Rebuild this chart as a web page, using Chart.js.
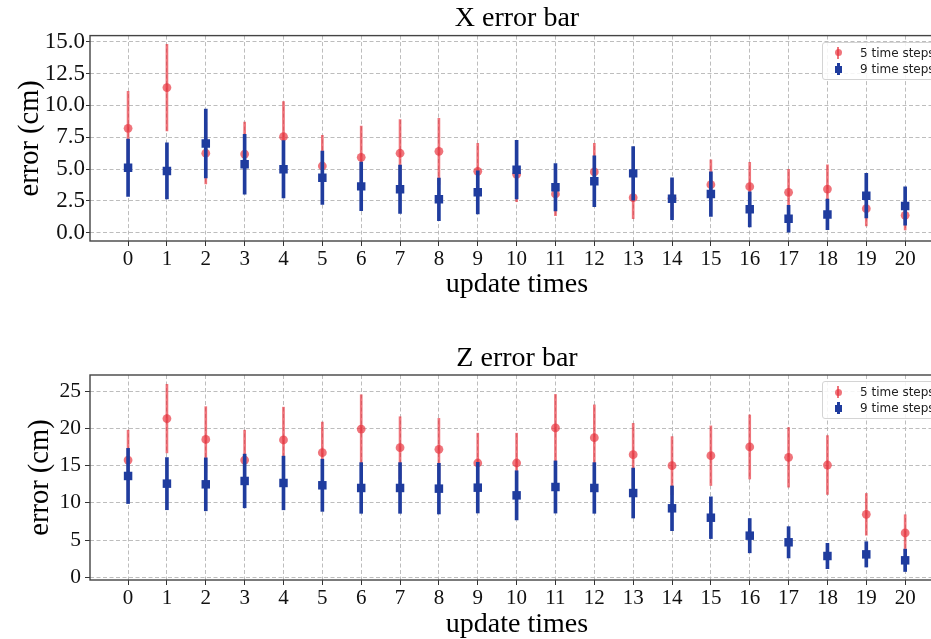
<!DOCTYPE html>
<html>
<head>
<meta charset="utf-8">
<script src="https://cdn.jsdelivr.net/npm/chart.js@4/dist/chart.umd.min.js"></script>
<style>
  html, body { margin:0; padding:0; background:#fff; width:931px; height:639px; overflow:hidden; }
  .wrap { position:absolute; left:0; }
  .legend { position:absolute; width:130px; height:38px; border:1px solid #d4d4d4; border-radius:3px;
            background:rgba(255,255,255,0.85); box-sizing:border-box; font:12px 'DejaVu Sans', sans-serif; color:#222; }
  .row { position:absolute; left:0; height:14px; line-height:14px; white-space:nowrap; }
  .row .txt { position:absolute; left:37px; top:0; }
  .mk { position:absolute; left:15px; top:7px; }
  .mk .ln { position:absolute; top:-6px; height:12px; }
  .mk .dot { position:absolute; }
</style>
</head>
<body>
<div class="wrap" style="top:0px;"><canvas id="cx" width="950" height="310"></canvas></div>
<div class="wrap" style="top:320px;"><canvas id="cz" width="950" height="330"></canvas></div>
<div class="legend" id="lx" style="left:822px; top:42px;"></div>
<div class="legend" id="lz" style="left:822px; top:381px;"></div>
<script>
// ---------------- data ----------------
const updateTimes = [0,1,2,3,4,5,6,7,8,9,10,11,12,13,14,15,16,17,18,19,20];
const seriesNames = ['5 time steps', '9 time steps'];

// X error (cm)
const xRedMean  = [8.2, 11.4, 6.24, 6.18, 7.54, 5.24, 5.92, 6.24, 6.39, 4.82, 4.59, 3.04, 4.77, 2.75, 2.7, 3.77, 3.62, 3.17, 3.43, 1.89, 1.37];
const xRedErr   = [2.9, 3.4, 2.4, 2.5, 2.75, 2.4, 2.45, 2.65, 2.6, 2.2, 2.15, 1.7, 2.25, 1.65, 1.5, 1.95, 1.9, 1.8, 1.9, 1.35, 1.15];
const xBlueMean = [5.1, 4.85, 7.0, 5.37, 4.98, 4.32, 3.64, 3.41, 2.62, 3.17, 4.95, 3.57, 4.04, 4.66, 2.67, 3.04, 1.84, 1.1, 1.44, 2.91, 2.1];
const xBlueErr  = [2.25, 2.2, 2.7, 2.35, 2.25, 2.1, 1.9, 1.9, 1.67, 1.7, 2.3, 1.85, 2.0, 2.1, 1.65, 1.75, 1.38, 1.05, 1.2, 1.75, 1.5];
const xYTicks   = [0, 2.5, 5, 7.5, 10, 12.5, 15];

// Z error (cm)
const zRedMean  = [15.74, 21.3, 18.5, 15.74, 18.43, 16.73, 19.9, 17.4, 17.18, 15.34, 15.34, 20.04, 18.74, 16.46, 14.98, 16.32, 17.49, 16.1, 15.07, 8.45, 5.95];
const zRedErr   = [4.0, 4.6, 4.4, 4.0, 4.4, 4.1, 4.6, 4.15, 4.15, 4.0, 4.0, 4.5, 4.4, 4.2, 3.9, 4.0, 4.3, 4.0, 3.95, 2.8, 2.45];
const zBlueMean = [13.6, 12.57, 12.48, 12.93, 12.66, 12.35, 11.99, 11.99, 11.9, 12.03, 11.0, 12.12, 11.99, 11.31, 9.26, 8.0, 5.59, 4.7, 2.86, 3.08, 2.28];
const zBlueErr  = [3.7, 3.5, 3.55, 3.6, 3.6, 3.5, 3.4, 3.4, 3.4, 3.4, 3.3, 3.5, 3.4, 3.35, 3.0, 2.8, 2.3, 2.1, 1.7, 1.7, 1.5];
const zYTicks   = [0, 5, 10, 15, 20, 25];

// ---------------- styles ----------------
const RED = 'rgba(232,50,60,0.68)';
const BLUE = '#1f3c9e';
const GRID = '#b5b5b5';
const SERIF = "'Liberation Serif', 'Times New Roman', serif";

Chart.defaults.font.family = SERIF;
Chart.defaults.color = '#111';

const framePlugin = {
  id: 'frame',
  afterDatasetsDraw(chart) {
    const {ctx, chartArea: a} = chart;
    ctx.save();
    ctx.strokeStyle = '#444';
    ctx.lineWidth = 1.4;
    ctx.strokeRect(a.left, a.top, a.right - a.left, a.bottom - a.top);
    ctx.restore();
  }
};

function makeChart(id, o) {
  const redBars = updateTimes.map((t, i) => ({x: t, y: [o.redMean[i] - o.redErr[i], o.redMean[i] + o.redErr[i]]}));
  const bluBars = updateTimes.map((t, i) => ({x: t, y: [o.blueMean[i] - o.blueErr[i], o.blueMean[i] + o.blueErr[i]]}));
  const redPts = updateTimes.map((t, i) => ({x: t, y: o.redMean[i]}));
  const bluPts = updateTimes.map((t, i) => ({x: t, y: o.blueMean[i]}));
  return new Chart(document.getElementById(id), {
    type: 'scatter',
    data: {
      datasets: [
        {type: 'bar', label: seriesNames[0] + ' err', data: redBars, backgroundColor: RED, borderWidth: 0,
         barThickness: 2, grouped: false, order: 4},
        {type: 'scatter', label: seriesNames[0], data: redPts, backgroundColor: RED, borderWidth: 0,
         pointStyle: 'circle', pointRadius: 4.4, order: 3},
        {type: 'bar', label: seriesNames[1] + ' err', data: bluBars, backgroundColor: BLUE, borderWidth: 0,
         barThickness: 3, grouped: false, order: 2},
        {type: 'scatter', label: seriesNames[1], data: bluPts, backgroundColor: BLUE, borderWidth: 0,
         pointStyle: 'rect', pointRadius: 6, order: 1}
      ]
    },
    options: {
      responsive: false,
      animation: false,
      events: [],
      layout: {padding: {left: 0, right: 6, top: 0, bottom: 0}},
      plugins: {
        legend: {display: false},
        tooltip: {enabled: false},
        title: {display: true, text: o.title, fullSize: false, color: '#000',
                font: {family: SERIF, size: 28, weight: 'normal', lineHeight: 1.2},
                padding: {top: o.titlePadTop, bottom: 0}}
      },
      scales: {
        x: {
          type: 'linear', min: -0.98, max: 21, offset: false,
          afterBuildTicks: ax => { ax.ticks = updateTimes.map(v => ({value: v})); },
          afterFit: sc => { sc.height = o.xAxisH; },
          grid: {display: true, offset: false, color: GRID, lineWidth: 0.9, tickLength: 5, tickColor: '#333', tickWidth: 1},
          border: {display: false, dash: [4, 2.5]},
          ticks: {padding: 1, autoSkip: false, maxRotation: 0, color: '#111',
                  font: {family: SERIF, size: 21}, callback: v => String(v)},
          title: {display: true, text: 'update times', color: '#000',
                  font: {family: SERIF, size: 28, lineHeight: 1.2}, padding: {top: 0, bottom: 9}}
        },
        y: {
          type: 'linear', min: o.yMin, max: o.yMax,
          afterBuildTicks: ax => { ax.ticks = o.yTicks.map(v => ({value: v})); },
          afterFit: sc => { sc.width = 90; },
          grid: {display: true, color: GRID, lineWidth: 0.9, tickLength: o.yTickLen, tickColor: '#333', tickWidth: 1},
          border: {display: false, dash: [4, 2.5]},
          ticks: {padding: o.yTickPad, color: '#111', font: {family: SERIF, size: o.yTickSize},
                  callback: v => o.fmt(v)},
          title: {display: true, text: 'error (cm)', color: '#000',
                  font: {family: SERIF, size: 28.5, lineHeight: 1.2}, padding: {top: o.yTitlePad, bottom: 0}}
        }
      }
    },
    plugins: [framePlugin]
  });
}

makeChart('cx', {
  title: 'X error bar', titlePadTop: 2, xAxisH: 69,
  redMean: xRedMean, redErr: xRedErr, blueMean: xBlueMean, blueErr: xBlueErr,
  yMin: -0.65, yMax: 15.48, yTicks: xYTicks, fmt: v => v.toFixed(1),
  yTickLen: 4, yTickPad: 1, yTickSize: 23, yTitlePad: 13
});
makeChart('cz', {
  title: 'Z error bar', titlePadTop: 21.4, xAxisH: 70,
  redMean: zRedMean, redErr: zRedErr, blueMean: zBlueMean, blueErr: zBlueErr,
  yMin: -0.36, yMax: 27.15, yTicks: zYTicks, fmt: v => String(v),
  yTickLen: 5, yTickPad: 4, yTickSize: 21.5, yTitlePad: 23
});

// ---------------- legends (HTML) ----------------
function buildLegend(id, rowTops) {
  const el = document.getElementById(id);
  const specs = [
    {name: seriesNames[0], color: RED, lw: 2, shape: 'circle'},
    {name: seriesNames[1], color: BLUE, lw: 3, shape: 'square'}
  ];
  specs.forEach((s, k) => {
    const row = document.createElement('div');
    row.className = 'row';
    row.style.top = (rowTops[k] - 7) + 'px';
    row.style.width = '130px';
    const mk = document.createElement('span');
    mk.className = 'mk';
    const ln = document.createElement('span');
    ln.className = 'ln';
    ln.style.width = s.lw + 'px';
    ln.style.left = (-s.lw / 2) + 'px';
    ln.style.background = s.color;
    const dot = document.createElement('span');
    dot.className = 'dot';
    const d = 7;
    dot.style.width = d + 'px'; dot.style.height = d + 'px';
    dot.style.left = (-d / 2) + 'px'; dot.style.top = (-d / 2) + 'px';
    dot.style.background = s.color;
    if (s.shape === 'circle') dot.style.borderRadius = '50%';
    mk.appendChild(ln); mk.appendChild(dot);
    const txt = document.createElement('span');
    txt.className = 'txt';
    txt.textContent = s.name;
    row.appendChild(mk); row.appendChild(txt);
    el.appendChild(row);
  });
}
buildLegend('lx', [9.5, 26]);
buildLegend('lz', [10, 26.3]);
</script>
</body>
</html>
